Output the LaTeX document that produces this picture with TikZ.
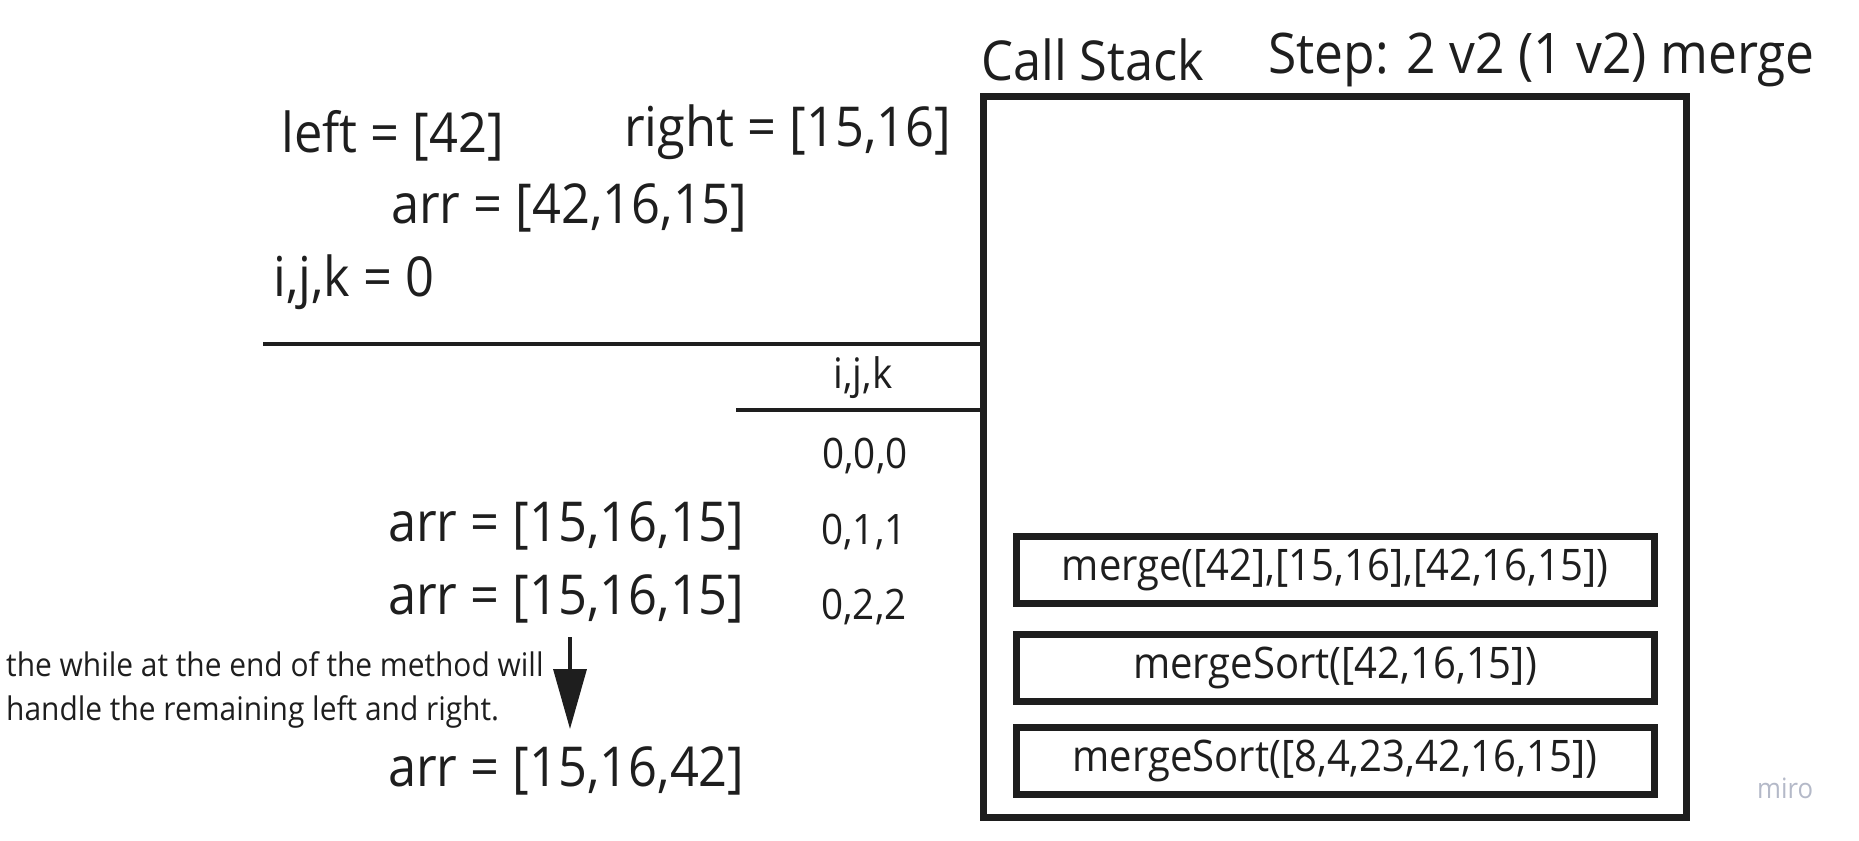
\documentclass[tikz,border=0pt]{standalone}
\usepackage{fontspec}
\setmainfont{Open Sans}[FakeStretch=0.92]
\usetikzlibrary{arrows.meta}
\definecolor{ink}{HTML}{1E1E1E}
\definecolor{miroc}{HTML}{B4B9C8}
\begin{document}
\begin{tikzpicture}[x=1pt,y=-1pt,
  big/.style={font=\fontsize{55}{64}\selectfont, text=ink, inner sep=0pt, anchor=west},
  small/.style={font=\fontsize{42}{50}\selectfont, text=ink, inner sep=0pt},
  note/.style={font=\fontsize{32.5}{44}\selectfont, text=ink, inner sep=0pt, anchor=west, align=left},
  frame/.style={draw=ink, line width=7pt, inner sep=0pt},
  call/.style={draw=ink, line width=7pt, minimum width=638pt, minimum height=67pt, inner sep=0pt, font=\fontsize{43.5}{52}\selectfont, text=ink},
  rule/.style={draw=ink, line width=3.5pt}]
\useasboundingbox (0,0) rectangle (1859,840);
% titles
\node[big] (title) at (981,60) {Call Stack};
\node[big, font=\fontsize{56}{64}\selectfont] (step) at (1268,60) {Step: 2 v2 (1 v2) merge};
% call stack frame
\node[frame, minimum width=703pt, minimum height=720pt] (stack) at (1334.5,457) {};
\node[call] (c1) at (1335,569.5) {merge([42],[15,16],[42,16,15])};
\node[call] (c2) at (1335,668) {mergeSort([42,16,15])};
\node[call] (c3) at (1335,760.5) {mergeSort([8,4,23,42,16,15])};
% variables
\node[big] (left) at (281,136) {left = [42]};
\node[big] (right) at (624,132) {right = [15,16]};
\node[big] (arr1) at (391,208) {arr = [42,16,15]};
\node[big] (ijk0) at (273,282) {i,j,k = 0};
% rules
\coordinate (r1) at (263,344);
\coordinate (r2) at (736,410);
\draw[rule] (r1) -- (stack.west |- r1);
\draw[rule] (r2) -- (stack.west |- r2);
% table
\node[small] (hdr) at (863,378) {i,j,k};
\node[small] (s0) at (865,456) {0,0,0};
\node[small] (s1) at (864,532) {0,1,1};
\node[small] (s2) at (864,607) {0,2,2};
\node[big] (arr2) at (388,526) {arr = [15,16,15]};
\node[big] (arr2b) at (388,599) {arr = [15,16,15]};
\node[big] (arr3) at (388,771) {arr = [15,16,42]};
% note and arrow
\node[note] (note) at (6,690) {the while at the end of the method will\\handle the remaining left and right.};
\coordinate (a0) at (570,637);
\coordinate (a1) at (570,729);
\draw[draw=ink, line width=3.5pt, -{Triangle[length=60pt,width=33pt]}] (a0) -- (a1);
% watermark
\node[font=\fontsize{28}{32}\selectfont, text=miroc, inner sep=0pt, anchor=west] (miro) at (1757,788) {miro};
\end{tikzpicture}
\end{document}
